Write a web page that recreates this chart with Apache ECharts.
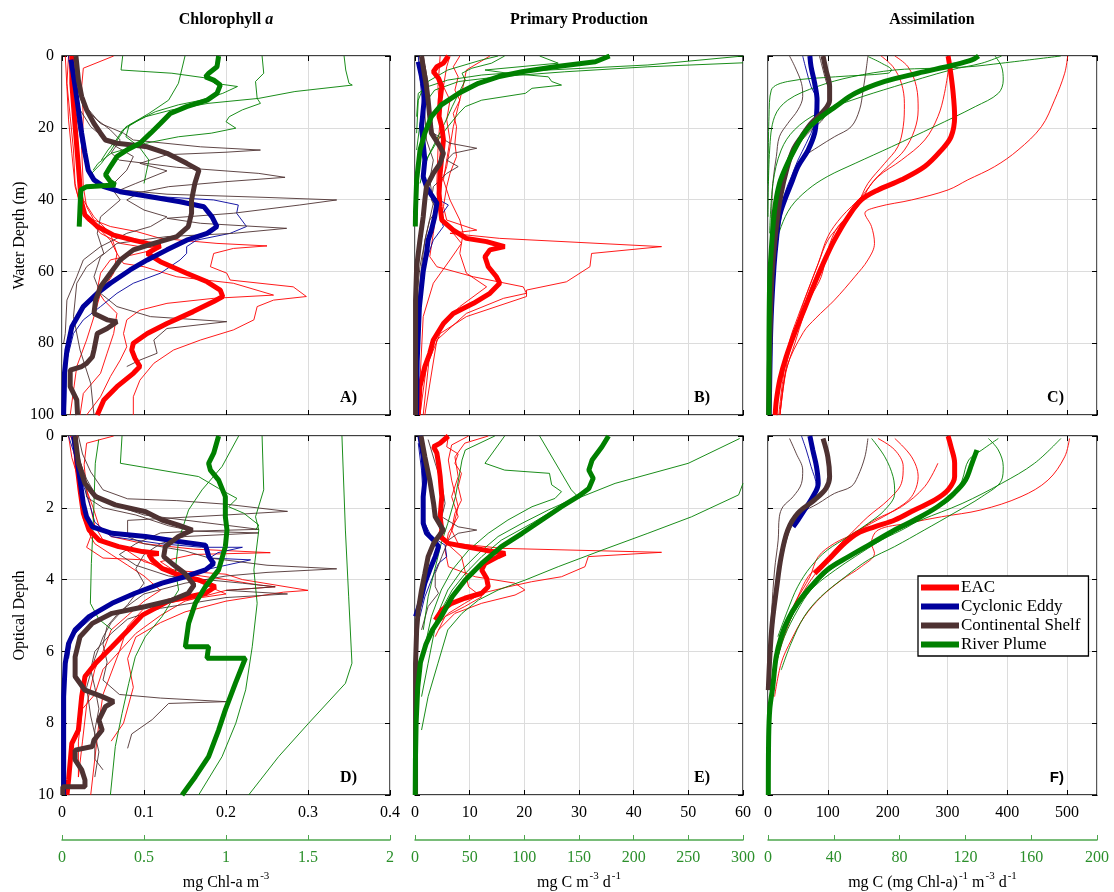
<!DOCTYPE html>
<html><head><meta charset="utf-8">
<script src="https://cdn.jsdelivr.net/npm/echarts/dist/echarts.min.js"></script>
<style>html,body{margin:0;padding:0;background:#fff}#c{width:1114px;height:892px}</style>
</head><body><div id="c"></div>
<script>
// ---------------- DATA ([value, depth] pairs) ----------------
// Panel A: Chlorophyll a vs water depth (black axis mg Chl-a m-3; River Plume on green axis)
const A_EAC = [[0.012,0],[0.012,7.6],[0.016,19.7],[0.02,30.8],[0.022,36.4],[0.023,40],[0.028,44.3],[0.043,47.5],[0.063,49.9],[0.087,51.3],[0.104,52.2],[0.12,52.9],[0.104,55],[0.12,57.3],[0.152,60.5],[0.177,62.9],[0.193,65.2],[0.196,67],[0.185,68.4],[0.16,71.2],[0.128,74.5],[0.104,77.3],[0.087,80],[0.085,81.9],[0.089,84.2],[0.095,86.5],[0.087,88.4],[0.067,92.1],[0.051,95.8],[0.043,100]];
const A_EDDY = [[0.011,1],[0.016,8.5],[0.02,15],[0.024,21.5],[0.028,27],[0.032,31.8],[0.039,34.5],[0.051,36.4],[0.071,37.8],[0.108,39.2],[0.144,40.6],[0.173,42],[0.183,44.8],[0.189,47.5],[0.177,49.4],[0.152,51.3],[0.128,54],[0.104,56.8],[0.083,59.6],[0.059,63.3],[0.043,66.1],[0.026,69.8],[0.012,75.4],[0.006,81.9],[0.003,88.4],[0.002,100]];
const A_SHELF = [[0.017,0],[0.02,6.7],[0.024,11.3],[0.03,15],[0.039,18.8],[0.047,21.5],[0.053,23.4],[0.067,24.3],[0.104,25.3],[0.128,27.1],[0.152,29.9],[0.167,31.8],[0.162,35.5],[0.158,40.1],[0.158,43.8],[0.154,47.5],[0.14,50.3],[0.112,52.2],[0.087,54],[0.071,56.8],[0.059,60.5],[0.047,64.3],[0.041,68],[0.039,71.7],[0.055,73.5],[0.067,74],[0.055,75.9],[0.043,77.3],[0.039,81.9],[0.037,83.8],[0.03,85.6],[0.024,86.5],[0.01,87.5],[0.01,92.1],[0.018,95.8],[0.019,100]];
const A_PLUME = [[0.955,0],[0.945,3],[0.895,4.8],[0.875,5.8],[0.925,6.7],[0.965,8.1],[0.945,10.4],[0.885,12.3],[0.76,14.1],[0.66,16],[0.6,18.8],[0.54,21.5],[0.475,24.3],[0.395,26.2],[0.335,28],[0.295,30.8],[0.265,33.1],[0.295,35],[0.325,35.9],[0.15,36.4],[0.115,37.3],[0.11,42],[0.105,47.5]];
const A_EAC_T = [
 [[0.063,0],[0.026,3.4],[0.024,8.5],[0.026,16.9],[0.024,26.2],[0.026,36.4],[0.03,42],[0.039,45.7],[0.059,47.5],[0.091,48.9],[0.12,50.8],[0.189,52.2],[0.25,52.9],[0.209,53.6],[0.185,55],[0.181,58.7],[0.201,60.5],[0.205,62.4],[0.282,64.3],[0.298,67],[0.258,68],[0.238,69.8],[0.234,73.5],[0.209,76.3],[0.169,79.1],[0.136,81.9],[0.112,85.6],[0.095,90.3],[0.087,94.9],[0.087,100]],
 [[0.008,0],[0.006,7.6],[0.01,16.9],[0.014,26.2],[0.016,35.5],[0.022,42],[0.03,45.7],[0.047,48.5],[0.059,51.3],[0.067,55],[0.075,57.8],[0.1,58.7],[0.14,61.5],[0.209,63.3],[0.258,66.6],[0.185,67.5],[0.128,68.9],[0.095,70.8],[0.079,73.5],[0.075,77.3],[0.079,81],[0.071,84.7],[0.059,89.3],[0.047,94.9],[0.03,100]],
 [[0.004,0],[0.006,8.5],[0.008,17.8],[0.012,27.1],[0.016,36.4],[0.026,43.8],[0.047,49.4],[0.071,52.2],[0.095,53.1],[0.12,53.6],[0.059,56.8],[0.047,60.5],[0.043,65.2],[0.051,68],[0.067,71.7],[0.063,77.3],[0.055,82.8],[0.047,88.4],[0.026,94],[0.022,100]],
 [[0.018,0],[0.012,12.3],[0.016,23.4],[0.02,33.6],[0.026,40.1],[0.039,44.8],[0.059,49.4],[0.067,55],[0.063,60.5],[0.047,66.1],[0.039,72.6],[0.03,79.1],[0.018,86.5],[0.01,100]]
];
const A_EDDY_T = [
 [[0.008,0],[0.012,8.5],[0.018,16.9],[0.024,25.3],[0.03,30.8],[0.039,34.5],[0.059,37.3],[0.12,39.2],[0.185,40.1],[0.215,41.5],[0.213,43.8],[0.225,47.5],[0.205,49.4],[0.164,51.3],[0.152,53.1],[0.152,55],[0.144,56.8],[0.12,60.5],[0.087,63.3],[0.067,66.1],[0.047,69.8],[0.026,73.5],[0.014,77.3],[0.006,84.7],[0.004,100]]
];
const A_SHELF_T = [
 [[0.014,0],[0.018,8.5],[0.026,14.1],[0.047,18.8],[0.075,21.5],[0.087,23.4],[0.169,25.3],[0.242,26.2],[0.2,26.8],[0.128,27.5],[0.095,29.9],[0.128,32],[0.09,35.5],[0.071,37.3],[0.128,38.5],[0.25,39.4],[0.335,40.1],[0.29,41.5],[0.209,43.8],[0.128,45.2],[0.169,46.6],[0.274,48],[0.209,49.4],[0.128,50.3],[0.067,52.2],[0.047,55.9],[0.039,61.5],[0.047,66.1],[0.067,69.8],[0.108,72.6],[0.201,74],[0.128,75.9],[0.112,79.1],[0.116,82.8],[0.095,84.7],[0.079,86.5]],
 [[0.012,0],[0.016,7.6],[0.026,13.2],[0.043,17.8],[0.059,20.6],[0.071,23.4],[0.06,27],[0.07,29],[0.14,31],[0.24,32.7],[0.272,33.8],[0.2,35],[0.13,36.4],[0.095,38],[0.079,40.1],[0.1,42.9],[0.128,44.8],[0.108,47.5],[0.079,49.4],[0.047,53.1],[0.026,56.8],[0.018,61.5],[0.006,68],[0.004,77.3],[0.002,80]],
 [[0.01,0],[0.014,8.5],[0.022,15],[0.035,19.7],[0.059,24.3],[0.087,28],[0.079,31.8],[0.059,36.4],[0.071,40.1],[0.047,44.8],[0.043,49.4],[0.051,55],[0.03,58.7],[0.018,63.3],[0.014,72.6],[0.022,81.9],[0.035,91.2],[0.039,100]]
];
const A_PLUME_T = [
 [[1.72,0],[1.73,3.9],[1.75,7.6],[1.77,8.1],[1.42,9.9],[1.2,11.8],[0.89,13.2],[0.67,15],[0.51,16.9],[0.39,19.7],[0.35,22.5],[0.3,26.2],[0.24,29.9],[0.18,32.7]],
 [[1.22,0],[1.23,4.8],[1.18,7.1],[1.19,11.8],[1.21,13.2],[1.1,15],[1.02,16.9],[1.0,18.3],[1.06,20.1],[0.91,21.5],[0.71,22.5],[0.51,24.3],[0.3,27.1],[0.22,29.9],[0.19,31.8]],
 [[0.37,0],[0.36,3.9],[0.67,4.8],[0.89,6.2],[0.93,7.6],[1.07,8.5],[0.98,10.4],[0.85,12.3],[0.71,13.6],[0.57,15.5],[0.47,17.8],[0.37,20.6],[0.33,23.4],[0.28,26.2],[0.24,29]],
 [[0.75,0],[0.71,7.6],[0.65,12.3],[0.53,16],[0.41,19.2],[0.39,22.5],[0.47,25.3],[0.53,29],[0.5,35.5]]
];

// Panel B: Primary production vs water depth (mg C m-3 d-1; River Plume on green axis)
const B_EAC = [[6.1,0],[5.2,2],[4,3],[3.35,4.4],[4.3,6.2],[4.9,8.5],[4.6,12.3],[4.4,16.9],[4.9,19.7],[5.2,23.4],[4.9,28],[4.6,32.7],[4.4,38.3],[4.6,42],[4.9,45.7],[7,48.5],[9.4,50.8],[13.1,51.7],[16.4,53.1],[13.7,54],[12.8,55.9],[13.4,58.7],[14.9,61.5],[15.5,63.3],[13.7,66.1],[10.7,68.9],[7,71.7],[5.2,74.5],[3.35,79.1],[2.7,82.8],[1.8,86.5],[0.9,92.1],[0.6,100]];
const B_EDDY = [[0.6,1.6],[1.2,5.8],[1.8,10.4],[1.5,15],[1.2,19.7],[1.5,24.3],[1.8,29],[1.5,33.6],[2.1,36.4],[3,38.7],[4,41],[3.6,44.8],[3,48.5],[2.4,51.3],[2.1,55],[1.5,60],[0.8,70],[0.4,85],[0.3,100]];
const B_SHELF = [[1.2,0],[1.5,3],[2.1,8.5],[2.4,12.3],[2.7,16.9],[3,21.5],[4.6,25.3],[5.2,27.1],[4.6,29.9],[3.35,32.7],[2.1,36.4],[1.8,40.1],[1.5,44.8],[0.9,51.3],[0.3,58.7],[0.1,68],[0.1,100]];
const B_PLUME = [[178,0],[165,1.6],[128,3],[98,4.4],[76,5.8],[58,7.6],[40,10.4],[24,13.6],[15,16.9],[9,21.5],[4.6,26.2],[1.5,34.5],[0.5,42.9],[0.3,47.5]];
const B_EAC_T = [
 [[8.2,0],[7,3],[7.9,5.8],[7.3,9.5],[8.2,12.3],[7,16],[7.6,19.7],[7.3,24.3],[7.6,28],[6.4,32.7],[5.8,36.4],[5.2,42],[5.8,45.7],[11.3,48.5],[6.4,49.4],[15.5,50.8],[45.1,53.1],[32.3,55],[32,58.7],[27.7,62.9],[20.4,65.2],[20.4,67],[9.4,72.6],[4.6,77.3],[2.1,86.5],[0.9,100]],
 [[13.7,0],[9.4,3.9],[8.8,8.5],[7.9,14.1],[7,19.7],[6.4,25.3],[5.8,30.8],[4.6,36.4],[4,42],[3.35,49.4],[2.7,55.9],[4,58.7],[10.7,61.5],[19.8,64.3],[20.4,66.1],[16.2,67.5],[9.4,71.7],[4,79.1],[1.8,100]],
 [[6.4,0],[5.8,3],[5.2,8.5],[6.4,12.3],[5.8,17.8],[6.4,23.4],[5.8,29],[5.2,34.5],[6.4,40.1],[8.2,45.7],[8.8,49.4],[8.2,55],[9.4,60.5],[13.1,64.3],[8.2,69.8],[4.6,75.4],[2.7,82.8],[1.5,100]],
 [[4.6,0],[4.2,8.5],[4.6,16.9],[4.2,26.2],[4,35.5],[4.6,44.8],[8.5,52.2],[6.4,56.8],[3.35,63.3],[1.5,72.6],[0.6,100]]
];
const B_EDDY_T = [
 [[0.6,0],[1,7.6],[1.5,15],[1.2,21.5],[1.6,29],[1.5,34.5],[3.35,39.2],[6.1,41.5],[4.6,44.8],[5.2,47.5],[3.35,51.3],[2.1,56.8],[1.2,64.3],[0.6,77.3]]
];
const B_SHELF_T = [
 [[1.5,0],[2.4,7.6],[2.7,15],[3.35,21.5],[6.4,24.3],[11.3,25.7],[7,27.1],[5.8,29],[7.9,30.8],[5.8,32.7],[3.35,36.4],[3,40.1],[3.95,42.9],[2.7,45.7],[1.8,51.3],[1.2,58.7],[0.6,68]],
 [[0.9,0],[1.2,8.5],[1.8,16],[2.1,23.4],[3.35,29],[2.7,34.5],[3.35,41],[2.1,49.4],[0.9,58.7],[0.3,68]]
];
const B_PLUME_T = [
 [[300,0],[213,2.5],[122,3.9],[61,5.3],[30,6.7],[12,8.5],[3,10.4],[1.5,16.9]],
 [[300,1.9],[213,3],[137,4.4],[76,5.8],[40,7.1],[18,9.5],[9,13.2],[4.6,18.8],[1.5,26.2]],
 [[114,0],[131,2],[64,3.9],[85,4.8],[122,5.8],[125,7.1],[134,8.1],[107,9],[101,10.4],[61,12.3],[46,14.1],[40,16],[30,19.7],[21,23.4],[12,28],[6,33.6]],
 [[82,0],[70,2],[52,3.4],[43,4.8],[46,6.7],[40,10.4],[34,14.1],[27,18.8],[18,24.3],[9,29.9],[4.6,35.5]],
 [[76,0],[61,1.1],[30,3.9],[9,7.6],[3,12.3],[1.5,21.5]]
];

// Panel C: Assimilation vs water depth (mg C (mg Chl-a)-1 m-3 d-1; River Plume on green axis)
const C_EAC = [[301,0],[304,3],[309,9.5],[312,16.9],[306,22.5],[290,26.2],[262,30.8],[223,34.5],[184,37.3],[156,40.1],[134,44.8],[111,51.3],[95,56.8],[78,63.3],[62,70],[45,77],[30,84],[20,90],[14,96],[12,100]];
const C_EDDY = [[70,0],[72,3],[78,7.6],[82,12.3],[81,16.9],[78,21.5],[67,26.2],[50,30.8],[39,35.5],[28,40.1],[19,44.8],[14,51.3],[10,58.7],[6,70],[4,80],[2,100]];
const C_SHELF = [[92,0],[97,3.9],[103,8.5],[103,12.3],[92,15.5],[72,18.8],[56,22.5],[42,26.2],[31,31.8],[22,38.3],[16,44.8],[10,54],[6,63.3],[3,80],[1,100]];
const C_PLUME = [[128,0],[124,1.1],[113,2.5],[91,4.8],[71,7.1],[53,10.4],[41,14.1],[30,17.8],[22,21.5],[16,26.2],[11,30.8],[7,35.5],[4,42.9],[2,54],[1,63.3],[0.6,80],[0.5,100]];
const C_EAC_T = [
 [[501,0],[496,4.8],[479,12.3],[457,19.7],[418,26.2],[379,30.8],[334,34.5],[301,37.3],[240,40.1],[184,42],[162,43.8],[173,47.5],[178,52.2],[167,56.8],[145,61.5],[111,68],[80,73],[59,77],[31,87],[20,100]],
 [[189,0],[209,3],[223,7.6],[228,13.2],[226,19.7],[217,25.3],[195,29.9],[167,35.5],[150,41],[123,46.6],[100,51.3],[84,57.8],[67,65.2],[53,72],[40,80],[31,86],[20,100]],
 [[212,0],[234,3],[248,8.5],[251,15],[245,20.6],[228,26.2],[206,29.9],[173,35.5],[150,42],[117,47.5],[100,54],[89,61.5],[72,67],[60,72],[45,80],[30,88],[20,100]],
 [[304,1.1],[295,10.4],[284,16.9],[262,23.4],[223,29],[184,33.6],[156,39.2],[123,44.8],[100,50.3],[84,57.8],[67,65.2],[50,72.6],[35,80],[25,90],[18,100]]
];
const C_EDDY_T = [
 [[58,0],[64,3.9],[72,8.5],[84,13.2],[78,18.8],[64,24.3],[50,29],[39,33.6],[28,38.3],[19,44.8],[14,54],[8,65],[4,80]]
];
const C_SHELF_T = [
 [[36,0],[45,3],[56,7.6],[58,11.3],[50,15],[33,18.8],[19,22.5],[14,28],[8,35.5],[6,44.8],[3,63.3]],
 [[167,0],[164,3.9],[159,9.5],[153,15],[139,19.7],[111,22.5],[84,25.3],[61,28],[45,31.8],[33,37.3],[22,44.8],[14,54],[8,68],[3,100]],
 [[86,0],[95,5.8],[103,11.3],[95,16.9],[67,21.5],[45,26.2],[28,33.6],[17,43],[11,54]]
];
const C_PLUME_T = [
 [[178,0],[142,2],[122,3],[101,3.4],[77,3.9],[51,5.8],[30,8.5],[12,12.3],[4,16.9],[1,26.2],[0,44.8]],
 [[142,0],[130,2],[111,3.9],[77,8.5],[51,12.3],[30,16],[16,20.6],[8,26.2],[3,35.5],[1,49.4]],
 [[138,0],[142,3],[143,6.7],[140,10.4],[126,14.1],[101,19.7],[75,25.3],[53,29.9],[36,33.6],[24,37.3],[14,42],[8,47.5],[4,54],[2,63.3]],
 [[61,0.2],[69,2],[75,3.9],[73,4.8],[41,5.8],[12,7.1],[2,9.5],[0.6,16.9],[0,35.5]]
];

// Panel D: Chlorophyll a vs optical depth
const D_EAC = [[0.016,0],[0.018,0.76],[0.022,1.5],[0.026,2.15],[0.033,2.62],[0.045,2.9],[0.069,3.08],[0.098,3.22],[0.118,3.27],[0.106,3.3],[0.11,3.45],[0.122,3.69],[0.142,3.87],[0.167,4.01],[0.187,4.2],[0.175,4.38],[0.13,4.6],[0.098,4.99],[0.081,5.4],[0.061,5.87],[0.041,6.33],[0.028,6.7],[0.024,7.26],[0.02,8.19],[0.012,8.56],[0.008,9.58],[0.006,10]];
const D_EDDY = [[0.014,0],[0.018,0.58],[0.022,1.23],[0.026,1.88],[0.03,2.25],[0.037,2.53],[0.061,2.71],[0.102,2.8],[0.142,2.94],[0.175,3.04],[0.179,3.36],[0.185,3.55],[0.175,3.73],[0.15,3.92],[0.122,4.1],[0.089,4.38],[0.061,4.66],[0.033,5.03],[0.016,5.4],[0.008,5.78],[0.004,6.33],[0.002,7.26],[0.002,10]];
const D_SHELF = [[0.016,0],[0.02,0.76],[0.028,1.32],[0.041,1.69],[0.065,1.92],[0.102,2.11],[0.122,2.34],[0.142,2.48],[0.159,2.62],[0.142,2.8],[0.126,3.08],[0.124,3.36],[0.134,3.55],[0.15,3.83],[0.161,4.15],[0.154,4.38],[0.134,4.57],[0.102,4.75],[0.061,4.94],[0.037,5.22],[0.022,5.59],[0.016,6.15],[0.016,6.7],[0.028,7.08],[0.049,7.26],[0.063,7.4],[0.053,7.54],[0.045,7.91],[0.049,8.19],[0.039,8.47],[0.037,8.65],[0.016,8.75],[0.016,9.02],[0.024,9.3],[0.028,9.58],[0.028,9.77],[0.001,9.77],[0.001,10]];
const D_PLUME = [[0.955,0],[0.925,0.48],[0.894,0.76],[0.905,0.95],[0.955,1.23],[0.996,1.69],[0.996,2.25],[1.006,2.62],[0.996,3.08],[0.955,3.73],[0.874,4.2],[0.813,4.66],[0.772,5.22],[0.752,5.87],[0.894,5.87],[0.884,6.19],[1.118,6.19],[1.057,6.89],[0.996,7.63],[0.955,8.19],[0.894,8.93],[0.813,9.49],[0.732,10]];
const D_EAC_T = [
 [[0.063,0],[0.03,0.2],[0.027,0.8],[0.03,1.5],[0.038,2.0],[0.045,2.5],[0.06,2.8],[0.1,3.0],[0.16,3.15],[0.254,3.25],[0.16,3.3],[0.12,3.5],[0.14,3.8],[0.2,4.0],[0.24,4.15],[0.26,4.2],[0.2,4.3],[0.15,4.6],[0.12,5.0],[0.09,5.5],[0.07,6.0],[0.06,6.6],[0.05,7.2],[0.045,8],[0.04,9],[0.035,10]],
 [[0.012,0],[0.015,0.5],[0.025,1.0],[0.03,1.5],[0.035,2],[0.04,2.5],[0.05,2.9],[0.08,3.2],[0.1,3.5],[0.14,3.75],[0.2,3.85],[0.22,4.0],[0.3,4.3],[0.27,4.35],[0.2,4.6],[0.15,4.9],[0.12,5.2],[0.09,5.6],[0.08,6.2],[0.087,7.0],[0.075,8.0],[0.06,8.5]],
 [[0.008,0],[0.012,0.6],[0.02,1.2],[0.025,1.8],[0.03,2.3],[0.035,2.8],[0.03,3.1],[0.05,3.4],[0.1,3.45],[0.12,3.7],[0.15,3.9],[0.17,4.1],[0.2,4.4],[0.14,4.6],[0.1,4.8],[0.08,5.3],[0.07,6.0],[0.05,6.5],[0.04,7.2],[0.025,7.6],[0.02,8.5],[0.02,9.5]],
 [[0.01,0],[0.02,0.4],[0.022,1],[0.024,1.7],[0.026,2.3],[0.035,2.8],[0.04,3.0],[0.06,3.3],[0.08,3.6],[0.1,3.9],[0.12,4.3],[0.1,4.6],[0.08,5.0],[0.06,5.4],[0.05,6.0],[0.04,6.5],[0.03,7.5],[0.025,8.5],[0.02,9.5]]
];
const D_EDDY_T = [
 [[0.008,0],[0.015,0.5],[0.02,1],[0.028,1.5],[0.035,2],[0.04,2.4],[0.06,2.8],[0.12,3],[0.17,3.1],[0.22,3.1],[0.19,3.25],[0.18,3.4],[0.23,3.45],[0.2,3.6],[0.16,3.8],[0.13,4.0],[0.1,4.3],[0.06,4.7],[0.04,5.0],[0.025,5.3],[0.012,5.6],[0.008,6.2]]
];
const D_SHELF_T = [
 [[0.02,0],[0.025,0.5],[0.035,1],[0.05,1.5],[0.08,1.75],[0.14,1.8],[0.2,1.9],[0.275,2.1],[0.2,2.2],[0.12,2.3],[0.08,2.35],[0.08,2.8],[0.1,3.0],[0.15,3.2],[0.18,3.4],[0.25,3.6],[0.335,3.7],[0.25,3.8],[0.2,3.9],[0.15,4.1],[0.1,4.4],[0.07,4.9],[0.055,5.3],[0.05,5.8],[0.055,6.3],[0.05,6.8],[0.07,7.2],[0.12,7.3],[0.2,7.4],[0.13,7.45],[0.11,7.9],[0.085,8.3],[0.08,8.7]],
 [[0.018,0],[0.02,0.6],[0.03,1.2],[0.04,1.6],[0.06,1.9],[0.1,2.2],[0.17,2.4],[0.24,2.6],[0.16,2.65],[0.12,2.7],[0.09,3.0],[0.07,3.3],[0.09,3.6],[0.13,3.9],[0.22,4.1],[0.26,4.2],[0.2,4.3],[0.275,4.4],[0.2,4.5],[0.12,4.8],[0.08,5.1],[0.06,5.5],[0.04,6.0],[0.035,6.5],[0.04,7.0],[0.045,7.6],[0.04,8.2],[0.04,9],[0.05,9.3]],
 [[0.015,0],[0.02,0.5],[0.028,1.2],[0.03,1.7],[0.05,2.0],[0.09,2.2],[0.13,2.5],[0.16,2.65],[0.24,2.7],[0.15,2.8],[0.12,3.0],[0.1,3.3],[0.09,3.7],[0.1,4.1],[0.08,4.7],[0.06,5.2],[0.05,5.6],[0.04,6.2],[0.03,7.0],[0.035,7.8],[0.045,8.8],[0.04,9.5]]
];
const D_PLUME_T = [
 [[1.707,0],[1.728,2.62],[1.748,4.48],[1.768,6.33],[1.728,6.89],[1.504,8.0],[1.321,8.93],[1.138,10]],
 [[1.22,0],[1.23,1.5],[1.18,2.25],[1.2,2.62],[1.17,3.73],[1.19,4.66],[1.16,5.87],[1.12,7.07],[1.06,8.0],[0.976,8.93],[0.833,10]],
 [[0.366,0],[0.356,0.76],[0.833,1.13],[0.955,1.46],[1.067,1.74],[1.016,1.97],[1.108,2.15],[1.2,2.48],[1.18,2.62]],
 [[1.077,0],[0.976,0.85],[0.854,1.5],[0.772,2.06],[0.711,2.9],[0.691,3.73],[0.711,4.29],[0.61,5.03],[0.508,5.59],[0.447,6.15],[0.407,6.89],[0.366,7.73],[0.325,8.65],[0.295,10]],
 [[0.224,0.1],[0.203,0.76],[0.193,2.15],[0.179,3.55],[0.173,4.66],[0.224,5.1],[0.305,5.4]]
];

// Panel E: Primary production vs optical depth
const E_EAC = [[6.1,0],[4.6,0.2],[3.4,0.3],[4,0.48],[4.3,0.76],[4.6,1.13],[4.9,1.69],[4.6,2.25],[4.9,2.62],[4.6,2.8],[6.1,2.99],[9.1,3.08],[12.8,3.18],[16.5,3.27],[15.2,3.36],[12.8,3.55],[12.2,3.73],[13.1,3.96],[13.4,4.2],[12.2,4.38],[9.1,4.52],[6.7,4.66],[4.9,4.85],[3.7,5.13]];
const E_EDDY = [[0.9,0],[1.5,0.58],[1.8,1.23],[1.5,1.69],[1.5,2.43],[2.1,2.71],[3.4,2.9],[4.3,3.08],[3.7,3.36],[2.7,3.73],[1.8,4.1],[0.9,4.66],[0.1,5.03]];
const E_SHELF = [[1.1,0],[1.8,0.58],[2.7,1.23],[3.4,1.88],[3.7,2.25],[4.6,2.48],[5.2,2.62],[4.3,2.8],[3.4,2.99],[2.4,3.36],[1.8,3.83],[1.2,4.29],[0.6,4.85],[0.3,5.4],[0.1,6.33],[0.1,10]];
const E_PLUME = [[177,0],[171,0.3],[162,0.67],[159,0.95],[163,1.18],[159,1.46],[149,1.69],[134,1.97],[116,2.34],[98,2.71],[79,3.08],[61,3.55],[46,4.01],[34,4.48],[24,5.03],[16,5.4],[10,5.8],[5,6.3],[2.5,7],[1,8],[0.4,9],[0.2,10]];
const E_EAC_T = [
 [[6.1,0],[5.8,0.3],[7.9,0.5],[7.3,0.76],[8.5,1.04],[7.9,1.41],[8.5,1.79],[7.3,2.15],[6.7,2.62],[7.9,3],[15.9,3.13],[45.1,3.24],[31.7,3.36],[31.1,3.64],[26.8,3.92],[21.3,4.06],[17.1,4.2],[12.2,4.38],[9.1,4.66],[6.1,4.94],[3.7,5.31]],
 [[13.4,0],[9.1,0.2],[7.3,0.58],[7.9,1.13],[6.7,1.69],[7.9,2.25],[6.1,2.71],[5.5,3.18],[6.1,3.64],[11,3.92],[18.3,4.1],[20.1,4.29],[18.3,4.43],[12.2,4.66],[7.3,4.94],[4.3,5.4]],
 [[9.8,0],[6.7,0.25],[6.1,0.67],[6.7,1.23],[7.9,1.97],[7,2.53],[5.8,2.99],[8.5,3.36],[9.1,3.73],[9.8,4.2],[12.2,4.48],[9.1,4.75],[5.5,5.03],[3.7,5.59]]
];
const E_EDDY_T = [
 [[0.6,0.2],[1.2,0.95],[1.5,1.69],[1.8,2.43],[3,2.8],[5.5,3.04],[5.8,3.36],[4.3,3.55],[3,4.01],[1.8,4.48],[0.9,5.03]]
];
const E_SHELF_T = [
 [[2.4,0.1],[3.7,0.76],[4.9,1.32],[5.5,1.88],[4.9,2.25],[7.9,2.53],[11.3,2.62],[7.9,2.71],[6.1,2.9],[4.9,3.36],[3.7,3.83],[3.7,4.2],[4.3,4.38],[2.4,4.75],[1.2,5.4]]
];
const E_PLUME_T = [
 [[297,0.07],[250,0.76],[183,1.32],[137,1.88],[107,2.43],[79,2.9],[61,3.36],[46,3.83],[34,4.29],[24,4.85],[18,5.4],[12,6.33],[6,7.26]],
 [[300,1.32],[296,1.64],[253,2.25],[213,2.71],[171,3.18],[131,3.64],[101,4.01],[76,4.29],[58,4.57],[43,4.94],[30,5.4],[21,6.33],[12,7.26],[6,8.19]],
 [[82,0],[64,0.76],[82,0.95],[123,1.04],[125,1.36],[134,1.55],[128,1.74],[107,1.97],[85,2.34],[67,2.71],[49,3.18],[34,3.73],[24,4.29],[15,5.03],[9,5.87]],
 [[114,0],[143,1.5],[149,1.69],[122,2.06],[98,2.43],[76,2.8],[58,3.27],[43,3.73],[30,4.29],[21,4.94],[15,5.59]],
 [[73,0],[46,0.39],[43,0.67],[37,1.69],[30,2.43],[24,2.99],[18,3.73],[12,4.48],[7.6,5.4]]
];

// Panel F: Assimilation vs optical depth
const F_EAC = [[301,0],[306,0.3],[312,0.76],[312,1.13],[301,1.5],[279,1.78],[245,2.06],[212,2.34],[178,2.53],[150,2.71],[128,2.99],[106,3.36],[84,3.73],[78,3.83]];
const F_EDDY = [[70,0],[75,0.4],[81,0.85],[84,1.32],[75,1.69],[61,2.06],[50,2.34],[42,2.53]];
const F_SHELF = [[92,0.07],[100,0.58],[103,1.13],[97,1.46],[78,1.78],[50,2.15],[33,2.62],[22,3.36],[14,4.29],[7,5.22],[3,6.15],[0.5,7.08]];
const F_PLUME = [[127,0.39],[124,0.76],[120,1.23],[113,1.6],[103,1.97],[89,2.34],[77,2.62],[63,2.99],[49,3.36],[36,3.73],[26,4.2],[18,4.66],[12,5.13],[8,5.59],[5,6.15],[2.9,6.98],[1.1,7.6],[0.4,8.4],[0.2,10]];
const F_EAC_T = [
 [[504,0.07],[496,0.58],[468,1.23],[423,1.69],[356,2.06],[290,2.25],[234,2.43],[184,2.62],[173,2.99],[178,3.27],[156,3.64],[123,4.01],[89,4.48],[61,5.03],[39,5.68],[22,6.33],[11,7.26]],
 [[184,0.07],[212,0.39],[226,0.85],[223,1.32],[201,1.78],[167,2.25],[139,2.71],[111,3.18],[84,3.73],[61,4.29],[42,4.94],[25,5.68],[14,6.33]],
 [[212,0.07],[240,0.58],[251,1.13],[240,1.69],[212,2.06],[173,2.43],[134,2.8],[106,3.27],[84,3.64],[67,3.92],[50,4.48],[33,5.13],[19,5.87]],
 [[284,0.76],[262,1.41],[223,1.97],[178,2.34],[145,2.71],[111,2.99],[84,3.36],[70,3.92],[45,4.66],[28,5.4]]
];
const F_EDDY_T = [
 [[56,0],[64,0.39],[72,0.85],[81,1.41],[72,1.78],[56,2.15],[45,2.53]]
];
const F_SHELF_T = [
 [[36,0.07],[47,0.48],[58,0.95],[56,1.32],[42,1.69],[25,1.97],[19,2.25],[17,2.9],[11,3.73],[6,4.94],[3,6.33]],
 [[167,0.07],[162,0.58],[150,1.13],[139,1.41],[111,1.6],[84,1.88],[56,2.15],[39,2.53],[28,3.08],[19,3.83],[11,4.94],[6,5.87]]
];
const F_PLUME_T = [
 [[178,0.07],[162,0.76],[142,1.32],[118,1.88],[93,2.34],[71,2.8],[53,3.27],[38,3.73],[26,4.29],[18,4.85],[10,5.59],[5,6.33]],
 [[140,0.07],[130,0.39],[122,0.67],[118,1.23],[113,1.69],[101,2.06],[85,2.53],[69,2.9],[53,3.36],[41,3.73],[28,4.2],[18,4.75],[10,5.5],[5,6.33]],
 [[63,0.07],[71,0.58],[76,1.13],[77,1.6],[71,2.06],[61,2.43],[49,2.8],[36,3.18],[26,3.64],[18,4.2],[12,4.85],[6,5.59]],
 [[134,0.07],[140,0.39],[143,0.85],[142,1.23],[130,1.69],[113,2.15],[95,2.62],[77,3.08],[61,3.45],[47,3.92],[32,4.48],[22,5.03],[14,5.78],[8,6.52]]
];

// Titles, axis texts, legend names
const COLUMN_TITLES = ['Primary Production', 'Assimilation'];
const PANEL_LABELS = ['A)', 'B)', 'C)', 'D)', 'E)', 'F)'];
const GROUP_NAMES = ['EAC', 'Cyclonic Eddy', 'Continental Shelf', 'River Plume'];

// ---------------- CHART ----------------
const SERIF = '"Liberation Serif", "Times New Roman", serif';
const COLORS = ['#ff0000', '#00009c', '#4e3232', '#008000'];
const GREEN_LINE = '#4ea64e', GREEN_TXT = '#2b8f2b', GRID_C = '#dcdcdc';

const PANELS = [
  {left:62, top:56, w:328, xmax:0.4, xint:0.1, gmax:2, gint:0.5, ymax:100, yint:20, row:0, col:0, smooth:0,
   thick:[A_EAC,A_EDDY,A_SHELF,A_PLUME], thin:[A_EAC_T,A_EDDY_T,A_SHELF_T,A_PLUME_T]},
  {left:415, top:56, w:328, xmax:60, xint:10, gmax:300, gint:50, ymax:100, yint:20, row:0, col:1, smooth:0,
   thick:[B_EAC,B_EDDY,B_SHELF,B_PLUME], thin:[B_EAC_T,B_EDDY_T,B_SHELF_T,B_PLUME_T]},
  {left:768, top:56, w:329, xmax:550, xint:100, gmax:200, gint:40, ymax:100, yint:20, row:0, col:2, smooth:0.35,
   thick:[C_EAC,C_EDDY,C_SHELF,C_PLUME], thin:[C_EAC_T,C_EDDY_T,C_SHELF_T,C_PLUME_T]},
  {left:62, top:436, w:328, xmax:0.4, xint:0.1, gmax:2, gint:0.5, ymax:10, yint:2, row:1, col:0, smooth:0,
   thick:[D_EAC,D_EDDY,D_SHELF,D_PLUME], thin:[D_EAC_T,D_EDDY_T,D_SHELF_T,D_PLUME_T]},
  {left:415, top:436, w:328, xmax:60, xint:10, gmax:300, gint:50, ymax:10, yint:2, row:1, col:1, smooth:0,
   thick:[E_EAC,E_EDDY,E_SHELF,E_PLUME], thin:[E_EAC_T,E_EDDY_T,E_SHELF_T,E_PLUME_T]},
  {left:768, top:436, w:329, xmax:550, xint:100, gmax:200, gint:40, ymax:10, yint:2, row:1, col:2, smooth:0.35,
   thick:[F_EAC,F_EDDY,F_SHELF,F_PLUME], thin:[F_EAC_T,F_EDDY_T,F_SHELF_T,F_PLUME_T]}
];
const X_NAMES = [
  '{n|mg Chl-a m}{s|-3}',
  '{n|mg C m}{s|-3}{n| d}{s|-1}',
  '{n|mg C (mg Chl-a)}{s|-1}{n| m}{s|-3}{n| d}{s|-1}'
];
const Y_NAMES = ['Water Depth (m)', 'Optical Depth'];
const nameRich = {n:{fontFamily:SERIF, fontSize:16, color:'#000', lineHeight:20, verticalAlign:'bottom'},
                  s:{fontFamily:SERIF, fontSize:11, color:'#000', lineHeight:20, verticalAlign:'top', padding:[0,0,0,1]}};

const grid = [], xAxis = [], yAxis = [], series = [];
const TICK = {show:true, inside:true, length:5, lineStyle:{color:'#000', width:1}};
PANELS.forEach((p, i) => {
  grid.push({left:p.left, top:p.top, width:p.w, height:359, show:true, borderColor:'#000', borderWidth:1.3,
             backgroundColor:'rgba(0,0,0,0)', containLabel:false, outerBoundsMode:'none'});
  const bottomRow = p.row === 1;
  // black bottom axis
  xAxis.push({type:'value', gridIndex:i, min:0, max:p.xmax, interval:p.xint, position:'bottom',
    axisLine:{show:false, onZero:false}, axisTick:TICK,
    axisLabel:{show:bottomRow, color:'#000', fontFamily:SERIF, fontSize:16, margin:10, showMaxLabel: p.xmax !== 550, showMinLabel:true},
    splitLine:{show:true, lineStyle:{color:GRID_C, width:1}}});
  // top tick axis
  xAxis.push({type:'value', gridIndex:i, min:0, max:p.xmax, interval:p.xint, position:'top',
    axisLine:{show:false, onZero:false}, axisTick:TICK,
    axisLabel:{show:false}, splitLine:{show:false}});
  // green axis (River Plume)
  xAxis.push({type:'value', gridIndex:i, min:0, max:p.gmax, interval:p.gint, position:'bottom', offset:45,
    show:bottomRow,
    axisLine:{show:true, onZero:false, lineStyle:{color:GREEN_LINE, width:1.5}},
    axisTick:{show:true, inside:true, length:5, lineStyle:{color:GREEN_LINE}},
    axisLabel:{show:true, color:GREEN_TXT, fontFamily:SERIF, fontSize:16, margin:10, showMaxLabel:true, showMinLabel:true},
    splitLine:{show:false},
    name: bottomRow ? X_NAMES[p.col] : '', nameLocation:'middle', nameGap:31, nameMoveOverlap:false,
    nameTextStyle:{rich:nameRich}});
  // left y axis
  yAxis.push({type:'value', gridIndex:i, inverse:true, min:0, max:p.ymax, interval:p.yint, position:'left',
    axisLine:{show:false, onZero:false}, axisTick:TICK,
    axisLabel:{show:p.col === 0, color:'#000', fontFamily:SERIF, fontSize:16, margin:8},
    splitLine:{show:true, lineStyle:{color:GRID_C, width:1}},
    name: p.col === 0 ? Y_NAMES[p.row] : '', nameLocation:'middle', nameRotate:90, nameGap:34, nameMoveOverlap:false,
    nameTextStyle:{fontFamily:SERIF, fontSize:16, color:'#000'}});
  // right y axis (ticks only)
  yAxis.push({type:'value', gridIndex:i, inverse:true, min:0, max:p.ymax, interval:p.yint, position:'right',
    axisLine:{show:false, onZero:false}, axisTick:TICK,
    axisLabel:{show:false}, splitLine:{show:false}});

  const mk = (name, data, g, width, z) => ({
    type:'line', name, data, xAxisIndex: g === 3 ? 3*i+2 : 3*i, yAxisIndex: 2*i,
    showSymbol:false, symbol:'none', smooth:p.smooth, color:COLORS[g], itemStyle:{color:COLORS[g]},
    lineStyle:{color:COLORS[g], width}, z, silent:true, animation:false
  });
  p.thin.forEach((list, g) => list.forEach(d => series.push(mk(GROUP_NAMES[g] + ' station', d, g, 0.9, 2))));
  p.thick.forEach((d, g) => series.push(mk(GROUP_NAMES[g], d, g, 5, 3)));
});

const graphic = [];
// column titles
graphic.push({type:'text', x:226, y:20, style:{text:'{b|Chlorophyll }{i|a}', align:'center', verticalAlign:'middle',
  rich:{b:{fontFamily:SERIF, fontSize:16, fontWeight:'bold', fill:'#000'}, i:{fontFamily:SERIF, fontSize:16, fontWeight:'bold', fontStyle:'italic', fill:'#000'}}}});
graphic.push({type:'text', x:579, y:20, style:{text:COLUMN_TITLES[0], align:'center', verticalAlign:'middle', fontFamily:SERIF, fontSize:16, fontWeight:'bold', fill:'#000'}});
graphic.push({type:'text', x:932, y:20, style:{text:COLUMN_TITLES[1], align:'center', verticalAlign:'middle', fontFamily:SERIF, fontSize:16, fontWeight:'bold', fill:'#000'}});
// panel labels
PANELS.forEach((p, i) => {
  graphic.push({type:'text', x:p.left + p.w - 33, y: p.top + 342, z:10,
    style:{text:PANEL_LABELS[i], align:'right', verticalAlign:'middle',
      fontFamily: i === 5 ? '"Liberation Sans", Arial, sans-serif' : SERIF, fontSize: i === 5 ? 15 : 16, fontWeight:'bold', fill:'#000'}});
});

const option = {
  animation:false,
  backgroundColor:'#fff',
  grid, xAxis, yAxis, series, graphic,
  legend:{data:GROUP_NAMES, orient:'vertical', left:918, top:576, itemWidth:38, itemHeight:6, itemGap:2,
    icon:'rect', backgroundColor:'#fff', borderColor:'#000', borderWidth:1.3, borderRadius:0,
    padding:[3,8,3,3], selectedMode:false, z:20,
    textStyle:{fontFamily:SERIF, fontSize:17, color:'#000', padding:[0,0,0,-3]}}
};
const chart = echarts.init(document.getElementById('c'), null, {renderer:'canvas', width:1114, height:892});
chart.setOption(option);
</script></body></html>
